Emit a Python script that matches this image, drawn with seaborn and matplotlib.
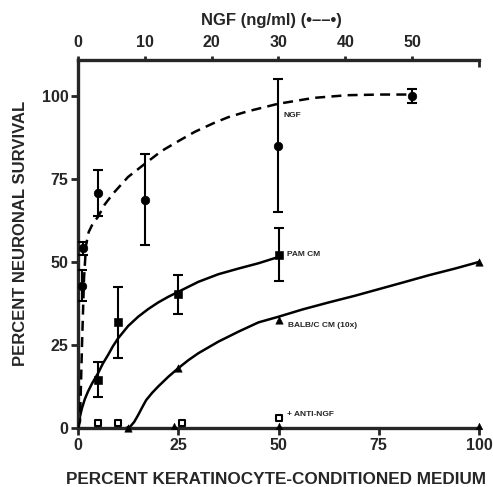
import numpy as np
import pandas as pd
import matplotlib
matplotlib.use("Agg")
import matplotlib.pyplot as plt
import seaborn as sns

# NGF dose response (top axis, ng/ml)
ngf_dose = [0.6, 0.8, 3.0, 10.0, 30.0, 50.0]
ngf_surv = [42.8, 54.1, 70.7, 68.7, 85.0, 100.0]
ngf_err = [4.7, 2.0, 7.0, 13.7, 20.0, 2.0]
ngf_curve_x = [0, 0.3, 0.6, 0.9, 1.2, 1.6, 2.2, 3.0, 4.0, 5.3, 7.5, 10.1, 12.5, 15.3, 17.5,
               20.3, 22.5, 25.3, 29.9, 35.3, 40.3, 45.3, 50.0]
ngf_curve_y = [0, 2, 25, 45, 55, 59.0, 61.5, 63.6, 67.3, 70.7, 75.6, 79.7, 83.4, 86.7, 89.2,
               91.8, 93.6, 95.3, 97.6, 99.4, 100.2, 100.4, 100.4]

# PAM conditioned medium (bottom axis, percent)
pam_pct = [5, 10, 25, 50]
pam_surv = [14.5, 31.8, 40.3, 52.2]
pam_err = [5.3, 10.8, 5.9, 8.0]
pam_curve_x = [0, 0.5, 1, 1.7, 2.5, 3.5, 5, 6.2, 7.5, 8.7, 10, 12.5, 15, 17.5, 20, 22.5, 25,
               30, 35, 40, 45, 50]
pam_curve_y = [0, 3.5, 6, 8.7, 11, 13.4, 16.5, 19.4, 22, 24.6, 27, 30.7, 33.5, 35.8, 37.8,
               39.5, 41, 44, 46.3, 48, 49.6, 51.5]

# BALB/c conditioned medium (10x)
balb_pct = [12.5, 25, 50, 100]
balb_surv = [0, 18, 32.5, 50]
balb_curve_x = [12, 13, 14, 15, 16, 17, 18.5, 20, 22.5, 25, 27.5, 30, 35, 40, 45, 50, 56, 62.5,
                69, 75, 81, 87.5, 94, 100]
balb_curve_y = [0, 0.4, 1.8, 3.9, 6.2, 8.4, 10.6, 12.5, 15.4, 18, 20.4, 22.5, 26, 29, 31.8,
                33.5, 35.7, 37.8, 39.8, 41.8, 43.8, 46, 48, 50]

# + anti-NGF
anti_sq_pct = [5, 10, 26, 50]
anti_sq_surv = [1.5, 1.5, 1.5, 3.0]
anti_tri_pct = [24, 50, 100]
anti_tri_surv = [0.5, 0.5, 0.5]

sns.set_style("ticks")
plt.rcParams['font.family'] = ['Liberation Sans', 'DejaVu Sans']
plt.rcParams['font.weight'] = 'bold'

fig = plt.figure(figsize=(4.93, 4.87), dpi=100)
ax = fig.add_axes([78 / 493, 1 - 428 / 487, (479 - 78) / 493, (428 - 60) / 487])
ax2 = ax.twiny()

ax.set_xlim(0, 100)
ax.set_ylim(0, 110.8)
ax2.set_xlim(0, 60)
ax2.set_ylim(0, 110.8)

k = 'black'
# NGF on top scale
sns.lineplot(x=ngf_curve_x, y=ngf_curve_y, ax=ax2, color=k, lw=1.8, sort=False,
             linestyle=(0, (4, 2.5)))
ax2.errorbar(ngf_dose, ngf_surv, yerr=ngf_err, fmt='none', ecolor=k, elinewidth=1.5,
             capsize=3.5, capthick=1.5)
sns.scatterplot(x=ngf_dose, y=ngf_surv, ax=ax2, color=k, s=38, marker='o', edgecolor=k)

# PAM CM
sns.lineplot(x=pam_curve_x, y=pam_curve_y, ax=ax, color=k, lw=1.8, sort=False)
ax.errorbar(pam_pct, pam_surv, yerr=pam_err, fmt='none', ecolor=k, elinewidth=1.5,
            capsize=3.5, capthick=1.5)
sns.scatterplot(x=pam_pct, y=pam_surv, ax=ax, color=k, s=30, marker='s', edgecolor=k)

# BALB/c CM
sns.lineplot(x=balb_curve_x, y=balb_curve_y, ax=ax, color=k, lw=1.8, sort=False)
sns.scatterplot(x=balb_pct, y=balb_surv, ax=ax, color=k, s=28, marker='^', edgecolor=k,
                clip_on=False, zorder=5)

# anti-NGF
sns.scatterplot(x=anti_sq_pct, y=anti_sq_surv, ax=ax, color='white', s=22, marker='s',
                edgecolor=k, linewidth=1.5, zorder=5, clip_on=False)
sns.scatterplot(x=anti_tri_pct, y=anti_tri_surv, ax=ax, color=k, s=22, marker='^',
                edgecolor=k, zorder=5, clip_on=False)

small = dict(fontsize=6, fontweight='bold', va='center', ha='left')
ax.text(51.2, 94, 'NGF', **small)
ax.text(52, 52.3, 'PAM CM', **small)
ax.text(52.3, 30.8, 'BALB/C CM (10x)', **small)
ax.text(52.2, 4, '+ ANTI-NGF', **small)

# axes styling
for a in (ax, ax2):
    a.spines['right'].set_visible(False)
    for s in ('left', 'bottom', 'top'):
        a.spines[s].set_linewidth(2.4)
ax.spines['top'].set_visible(False)
ax2.spines['bottom'].set_visible(False)
ax2.spines['left'].set_visible(False)

ax.set_xticks([0, 25, 50, 75, 100])
ax.set_yticks([0, 25, 50, 75, 100])
ax2.set_xticks([0, 10, 20, 30, 40, 50])
ax2.set_xticks([60], minor=True)
ax.tick_params(axis='both', direction='out', length=5, width=2, labelsize=11.5, pad=2)
ax2.tick_params(axis='x', direction='out', length=3, width=2, labelsize=11.5, pad=4)
ax2.tick_params(axis='x', which='minor', direction='in', length=5, width=2)
for lab in ax.get_xticklabels() + ax.get_yticklabels() + ax2.get_xticklabels():
    lab.set_fontweight('bold')

ax.set_xlabel('PERCENT KERATINOCYTE-CONDITIONED MEDIUM', fontsize=12.3, fontweight='bold')
ax.xaxis.set_label_coords(0.494, -0.12)
ax.set_ylabel('PERCENT NEURONAL SURVIVAL', fontsize=12, fontweight='bold')
ax.yaxis.set_label_coords(-0.125, 0.53)
fig.text(271 / 493, 1 - 20 / 487, 'NGF (ng/ml) (\u2022\u2013\u2013\u2022)', fontsize=12,
         fontweight='bold', ha='center', va='center')

fig.savefig('out.png', dpi=100)
